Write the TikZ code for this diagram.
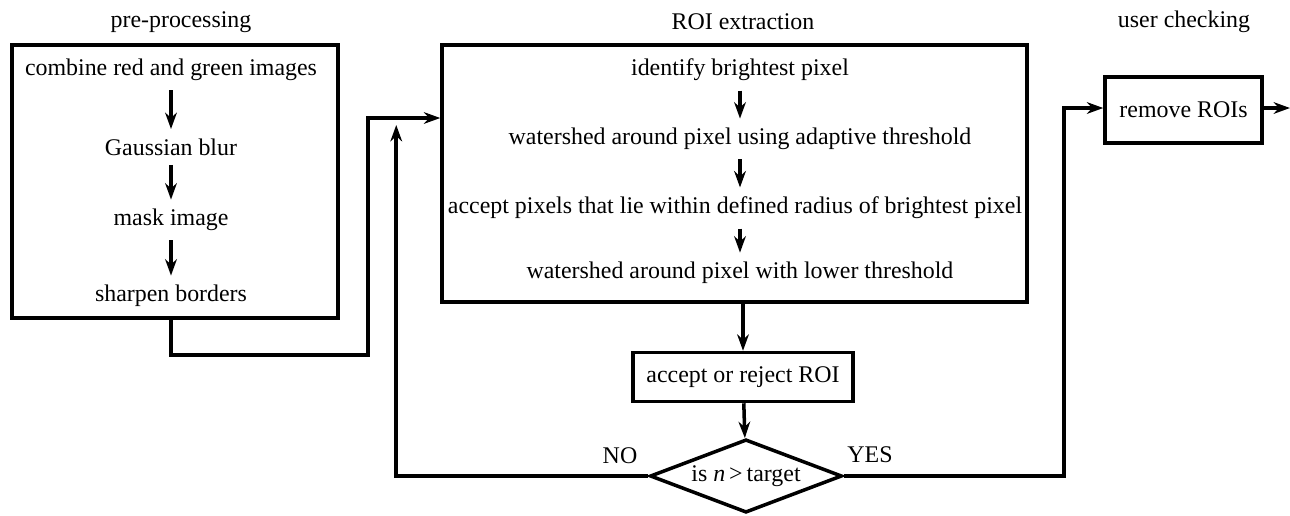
\documentclass[tikz,border=0pt]{standalone}
\usepackage{fontspec}
\setmainfont{Liberation Serif}
\usetikzlibrary{shapes.geometric,arrows.meta}

\begin{document}
\begin{tikzpicture}[x=0.015cm,y=-0.015cm,line width=1.5pt,
    >={Stealth[length=7pt,width=5pt]},
    every node/.style={font=\fontsize{10.2}{12}\selectfont},
    stage/.style={draw,rectangle,inner sep=0pt},
    test/.style={draw,diamond,aspect=2.68,inner sep=0pt,minimum width=2.88cm,minimum height=1.1cm}]
  % \draw[help lines] (0,0) grid (1290,515);
  \useasboundingbox (0,0) rectangle (1290,515);
  \node (lpre) at (181,22)  {pre-processing};
  \node (lroi) at (743,22)  {ROI extraction};
  \node (lusr) at (1184,22) {user checking};

  \node[stage,minimum width=4.89cm,minimum height=4.095cm] (pre) at (175,181.5) {};
  \node (pp1) at (171,70)  {combine red and green images};
  \node (pp2) at (171,147) {Gaussian blur};
  \node (pp3) at (171,220) {mask image};
  \node (pp4) at (171,296) {sharpen borders};
  \path[->] (pp1) edge (pp2)
            (pp2) edge (pp3)
            (pp3) edge (pp4);

  \node[stage,minimum width=8.775cm,minimum height=3.855cm] (roi) at (734.5,173.5) {};
  \node (roi1) at (740,70)  {identify brightest pixel};
  \node (roi2) at (740,139) {watershed around pixel using adaptive threshold};
  \node (roi3) at (735,208) {accept pixels that lie within defined radius of brightest pixel};
  \node (roi4) at (740,273) {watershed around pixel with lower threshold};
  \path[->] (roi1) edge (roi2)
            (roi2) edge (roi2 |- roi3.north)
            (roi3.south -| roi4) edge (roi4);

  \node[stage,minimum width=3.3cm,minimum height=0.735cm] (acc) at (743,377) {accept or reject ROI};
  \node[test] (ntest) at (746,476) {is {\itshape n}\,>\,target};
  \node[stage,minimum width=2.355cm,minimum height=0.99cm] (rem) at (1183.5,110) {remove ROIs};
  \coordinate (out) at (1290,108);
  \path (roi.west) ++(0,-55.5) coordinate (roiin);

  \path[->] (roi.south -| acc) edge (acc)
            (acc) edge (ntest)
            (rem.east |- out) edge (out);
  \draw[->] (pre.south -| pp4) -- ++(0,35) -- ++(197,0) |- (roiin);
  \draw[->] (ntest.west) -- ++(-252,0) -- ++(0,-351);
  \draw[->] (ntest.east) -- ++(220,0) |- (rem.west |- out);
  \node (no)  at (620,456) {NO};
  \node (yes) at (870,455) {YES};
\end{tikzpicture}
\end{document}
